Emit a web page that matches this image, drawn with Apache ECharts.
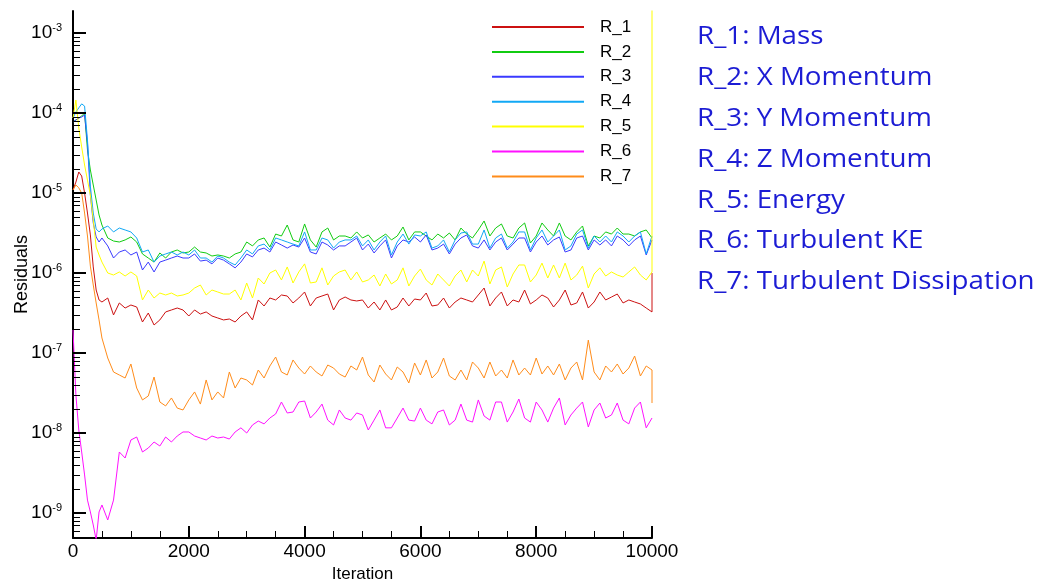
<!DOCTYPE html>
<html>
<head>
<meta charset="utf-8">
<script src="https://cdn.jsdelivr.net/npm/echarts@6/dist/echarts.min.js"></script>
<style>
html,body{margin:0;padding:0;background:#fff;}
#chart{width:1041px;height:581px;}
</style>
</head>
<body>
<div id="chart"></div>
<script>
// Iteration numbers (x). Last entry repeats 10000 for the final-step jump.
const iterations = [0,50,100,150,200,250,300,350,400,450,500,
  600,700,800,900,1000,1100,1200,1300,1400,1500,
  1600,1700,1800,1900,2000,2100,2200,2300,2400,2500,
  2600,2700,2800,2900,3000,3100,3200,3300,3400,3500,
  3600,3700,3800,3900,4000,4100,4200,4300,4400,4500,
  4600,4700,4800,4900,5000,5100,5200,5300,5400,5500,
  5600,5700,5800,5900,6000,6100,6200,6300,6400,6500,
  6600,6700,6800,6900,7000,7100,7200,7300,7400,7500,
  7600,7700,7800,7900,8000,8100,8200,8300,8400,8500,
  8600,8700,8800,8900,9000,9100,9200,9300,9400,9500,
  9600,9700,9800,9900,10000,
  10000];

const R_1 = [1.09e-5,1.37e-5,1.83e-5,1.63e-5,1.0e-5,5.62e-6,2.99e-6,1.19e-6,6.13e-7,4.6e-7,4.34e-7,
  4.87e-7,2.99e-7,4.22e-7,3.65e-7,3.98e-7,3.76e-7,2.44e-7,3.16e-7,2.24e-7,2.59e-7,
  3.26e-7,3.45e-7,3.65e-7,3.45e-7,2.9e-7,3.45e-7,3.07e-7,3.26e-7,2.9e-7,2.74e-7,
  2.59e-7,2.66e-7,2.44e-7,2.9e-7,3.26e-7,2.59e-7,4.6e-7,3.87e-7,4.87e-7,4.6e-7,
  5.31e-7,5.16e-7,4.22e-7,4.87e-7,5.79e-7,3.87e-7,4.87e-7,5.16e-7,5.46e-7,3.45e-7,
  4.6e-7,5.01e-7,4.6e-7,4.47e-7,4.6e-7,3.65e-7,4.34e-7,3.45e-7,4.6e-7,3.45e-7,
  3.76e-7,4.87e-7,3.87e-7,4.73e-7,4.6e-7,5.62e-7,3.87e-7,3.98e-7,4.87e-7,3.65e-7,
  4.34e-7,4.87e-7,4.6e-7,4.34e-7,5.31e-7,6.49e-7,3.87e-7,4.87e-7,5.79e-7,3.87e-7,
  4.6e-7,4.34e-7,6.13e-7,4.1e-7,4.6e-7,5.31e-7,4.87e-7,3.76e-7,4.6e-7,6.13e-7,
  3.98e-7,4.22e-7,5.79e-7,3.65e-7,4.34e-7,5.79e-7,4.6e-7,5.01e-7,5.46e-7,4.22e-7,
  4.6e-7,4.34e-7,4.1e-7,3.65e-7,3.26e-7,
  1.0e-6];

const R_2 = [7.72e-5,8.18e-5,8.66e-5,9.17e-5,1.0e-4,3.45e-5,1.94e-5,1.26e-5,8.18e-6,5.31e-6,3.98e-6,
  2.74e-6,2.51e-6,2.44e-6,2.59e-6,2.82e-6,2.44e-6,1.73e-6,1.54e-6,1.37e-6,1.78e-6,
  1.54e-6,1.83e-6,1.94e-6,1.78e-6,1.83e-6,2.11e-6,1.83e-6,1.78e-6,1.63e-6,1.68e-6,
  1.63e-6,1.54e-6,1.73e-6,1.83e-6,2.44e-6,2.18e-6,2.59e-6,2.74e-6,2.11e-6,3.07e-6,
  2.9e-6,3.98e-6,2.59e-6,2.44e-6,4.1e-6,2.59e-6,2.11e-6,3.26e-6,3.65e-6,2.59e-6,
  2.9e-6,2.9e-6,2.74e-6,3.26e-6,2.74e-6,2.99e-6,2.44e-6,2.74e-6,3.07e-6,2.59e-6,
  2.9e-6,3.76e-6,2.59e-6,3.26e-6,3.26e-6,2.9e-6,2.59e-6,3.07e-6,2.74e-6,3.16e-6,
  2.59e-6,3.65e-6,3.07e-6,2.74e-6,3.45e-6,4.47e-6,2.9e-6,3.65e-6,4.1e-6,2.9e-6,
  2.74e-6,3.65e-6,4.22e-6,2.37e-6,2.9e-6,4.22e-6,3.45e-6,2.9e-6,4.22e-6,2.9e-6,
  2.59e-6,3.26e-6,3.87e-6,2.18e-6,2.9e-6,2.74e-6,3.26e-6,3.07e-6,3.65e-6,3.07e-6,
  3.07e-6,2.9e-6,3.26e-6,3.45e-6,2.74e-6,
  2.74e-6];

const R_3 = [7.72e-5,8.18e-5,8.66e-5,8.91e-5,9.44e-5,4.22e-5,9.44e-6,4.22e-6,2.82e-6,2.44e-6,2.74e-6,
  2.18e-6,1.54e-6,1.83e-6,1.94e-6,1.68e-6,1.83e-6,1.09e-6,1.37e-6,1.03e-6,1.37e-6,
  1.45e-6,1.54e-6,1.63e-6,1.54e-6,1.54e-6,1.73e-6,1.41e-6,1.45e-6,1.3e-6,1.54e-6,
  1.45e-6,1.3e-6,1.16e-6,1.37e-6,1.73e-6,1.59e-6,1.94e-6,2.05e-6,1.83e-6,2.44e-6,
  2.24e-6,2.05e-6,2.24e-6,2.11e-6,2.74e-6,1.83e-6,1.73e-6,2.44e-6,2.24e-6,1.94e-6,
  2.18e-6,2.18e-6,2.44e-6,2.74e-6,1.94e-6,2.3e-6,1.78e-6,2.18e-6,2.59e-6,1.54e-6,
  2.18e-6,2.59e-6,2.44e-6,2.82e-6,2.44e-6,2.99e-6,1.94e-6,2.05e-6,2.3e-6,1.73e-6,
  2.3e-6,2.74e-6,2.99e-6,2.18e-6,2.05e-6,2.59e-6,1.94e-6,2.44e-6,2.74e-6,1.94e-6,
  2.3e-6,2.74e-6,2.74e-6,1.83e-6,2.44e-6,2.9e-6,2.24e-6,2.59e-6,2.82e-6,1.83e-6,
  1.94e-6,2.74e-6,2.9e-6,1.94e-6,2.59e-6,2.24e-6,2.59e-6,2.18e-6,2.9e-6,2.59e-6,
  2.18e-6,2.59e-6,2.9e-6,1.68e-6,2.59e-6,
  2.59e-6];

const R_4 = [8.66e-5,1.03e-4,1.16e-4,1.3e-4,1.22e-4,4.6e-5,1.22e-5,5.62e-6,3.55e-6,3.26e-6,3.55e-6,
  3.87e-6,3.26e-6,3.65e-6,3.45e-6,3.26e-6,2.74e-6,1.83e-6,1.94e-6,1.37e-6,1.63e-6,
  1.73e-6,1.83e-6,1.68e-6,1.83e-6,1.68e-6,1.94e-6,1.54e-6,1.54e-6,1.37e-6,1.63e-6,
  1.54e-6,1.37e-6,1.26e-6,1.54e-6,1.94e-6,1.73e-6,2.18e-6,2.3e-6,1.94e-6,2.74e-6,
  2.59e-6,2.44e-6,2.3e-6,2.18e-6,3.26e-6,1.94e-6,1.94e-6,2.74e-6,2.59e-6,2.05e-6,
  2.44e-6,2.59e-6,2.59e-6,2.9e-6,2.18e-6,2.59e-6,1.94e-6,2.44e-6,2.9e-6,1.68e-6,
  2.44e-6,3.07e-6,2.3e-6,2.99e-6,2.9e-6,3.26e-6,2.05e-6,2.18e-6,2.59e-6,1.83e-6,
  2.59e-6,3.16e-6,3.26e-6,2.3e-6,2.3e-6,3.45e-6,2.05e-6,2.74e-6,3.07e-6,2.05e-6,
  2.44e-6,3.26e-6,3.26e-6,1.94e-6,2.74e-6,3.45e-6,2.44e-6,2.9e-6,3.45e-6,1.94e-6,
  2.18e-6,3.07e-6,3.45e-6,2.05e-6,2.9e-6,2.44e-6,2.9e-6,2.44e-6,3.26e-6,2.9e-6,
  2.44e-6,2.9e-6,3.26e-6,1.73e-6,2.9e-6,
  2.9e-6];

const R_5 = [8.66e-5,1.45e-4,6.49e-5,3.76e-5,2.24e-5,1.45e-5,9.44e-6,4.6e-6,2.11e-6,1.68e-6,1.37e-6,
  1.0e-6,9.44e-7,1.03e-6,9.17e-7,1.03e-6,9.17e-7,4.6e-7,6.13e-7,4.87e-7,5.62e-7,
  5.31e-7,5.62e-7,5.16e-7,5.31e-7,5.62e-7,6.49e-7,7.08e-7,5.31e-7,6.13e-7,5.79e-7,
  5.46e-7,5.46e-7,6.13e-7,4.6e-7,7.5e-7,4.87e-7,8.66e-7,7.29e-7,1.0e-6,1.09e-6,
  8.18e-7,1.19e-6,7.5e-7,1.03e-6,1.3e-6,7.5e-7,7.72e-7,1.16e-6,7.08e-7,9.17e-7,
  1.03e-6,1.09e-6,8.18e-7,1.03e-6,7.72e-7,8.18e-7,9.44e-7,6.88e-7,9.72e-7,7.29e-7,
  8.18e-7,1.16e-6,6.88e-7,9.17e-7,1.12e-6,8.18e-7,7.08e-7,9.72e-7,8.18e-7,6.88e-7,
  9.17e-7,1.09e-6,7.72e-7,1.09e-6,9.17e-7,1.41e-6,7.29e-7,1.09e-6,1.19e-6,6.68e-7,
  9.72e-7,1.26e-6,1.26e-6,7.72e-7,9.44e-7,1.33e-6,8.66e-7,1.26e-6,8.66e-7,1.33e-6,
  8.18e-7,9.44e-7,1.22e-6,6.49e-7,9.72e-7,1.16e-6,9.17e-7,1.03e-6,9.44e-7,8.91e-7,
  1.03e-6,1.19e-6,9.44e-7,8.18e-7,1.03e-6,
  1.0e-2];

const R_6 = [1.94e-7,2.99e-8,1.09e-8,5.79e-9,2.99e-9,1.45e-9,1.03e-9,7.08e-10,4.6e-10,1.03e-9,1.26e-9,
  8.18e-10,1.45e-9,5.79e-9,4.87e-9,8.18e-9,8.91e-9,5.79e-9,6.49e-9,7.72e-9,6.88e-9,
  8.91e-9,7.72e-9,9.17e-9,1.03e-8,1.03e-8,9.17e-9,8.66e-9,8.18e-9,9.17e-9,8.66e-9,
  8.91e-9,8.41e-9,1.03e-8,1.16e-8,1.0e-8,1.26e-8,1.41e-8,1.3e-8,1.54e-8,1.73e-8,
  2.44e-8,1.78e-8,1.83e-8,2.44e-8,2.51e-8,1.54e-8,1.83e-8,2.3e-8,1.45e-8,1.26e-8,
  1.94e-8,1.54e-8,1.45e-8,1.78e-8,1.68e-8,1.09e-8,1.45e-8,1.94e-8,1.16e-8,1.16e-8,
  1.54e-8,2.05e-8,1.45e-8,1.41e-8,2.05e-8,1.45e-8,1.3e-8,1.83e-8,1.94e-8,1.26e-8,
  1.45e-8,2.3e-8,1.45e-8,1.37e-8,2.59e-8,1.63e-8,1.45e-8,2.44e-8,2.44e-8,1.37e-8,
  1.83e-8,2.66e-8,1.54e-8,1.37e-8,2.44e-8,1.94e-8,1.37e-8,2.05e-8,2.74e-8,1.26e-8,
  1.68e-8,2.05e-8,2.44e-8,1.19e-8,1.94e-8,2.37e-8,1.54e-8,1.68e-8,2.37e-8,1.45e-8,
  1.3e-8,2.05e-8,2.44e-8,1.16e-8,1.54e-8,
  1.54e-8];

const R_7 = [1.09e-5,1.26e-5,1.16e-5,1.0e-5,5.62e-6,2.9e-6,1.22e-6,7.08e-7,4.22e-7,2.59e-7,1.54e-7,
  8.66e-8,5.79e-8,5.31e-8,4.87e-8,7.29e-8,3.65e-8,2.59e-8,2.9e-8,5.01e-8,2.44e-8,
  2.18e-8,2.74e-8,2.05e-8,1.94e-8,2.59e-8,3.26e-8,2.3e-8,4.6e-8,2.59e-8,3.26e-8,
  2.74e-8,5.79e-8,3.65e-8,4.87e-8,4.6e-8,3.98e-8,6.13e-8,4.87e-8,6.88e-8,8.91e-8,
  5.79e-8,5.31e-8,8.18e-8,6.49e-8,5.46e-8,6.88e-8,5.79e-8,5.16e-8,7.08e-8,6.49e-8,
  5.46e-8,5.01e-8,6.88e-8,6.13e-8,8.91e-8,5.31e-8,4.34e-8,7.08e-8,5.46e-8,4.6e-8,
  6.68e-8,5.79e-8,4.22e-8,7.5e-8,5.31e-8,8.18e-8,4.87e-8,5.79e-8,8.66e-8,5.16e-8,
  4.6e-8,6.13e-8,4.6e-8,7.72e-8,6.49e-8,4.87e-8,7.72e-8,5.16e-8,6.13e-8,4.87e-8,
  8.18e-8,5.31e-8,6.49e-8,5.31e-8,8.66e-8,5.46e-8,6.88e-8,5.31e-8,7.29e-8,4.6e-8,
  6.49e-8,7.72e-8,4.6e-8,1.45e-7,5.79e-8,4.6e-8,6.88e-8,5.79e-8,7.29e-8,5.46e-8,
  6.49e-8,9.17e-8,5.16e-8,6.88e-8,6.13e-8,
  2.37e-8];

const seriesNames = ['R_1','R_2','R_3','R_4','R_5','R_6','R_7'];
const seriesValues = [R_1, R_2, R_3, R_4, R_5, R_6, R_7];
const seriesColors = ['#cc1111','#11cc11','#3a3aff','#11a8f5','#ffff00','#ff11ff','#ff8c1a'];
const descriptions = ['R_1: Mass','R_2: X Momentum','R_3: Y Momentum','R_4: Z Momentum',
  'R_5: Energy','R_6: Turbulent KE','R_7: Turbulent Dissipation'];
const xTicks = {min: 0, max: 10000, interval: 2000};
const yRange = {min: 4.87e-10, max: 1.884e-3};
const yMajorExponents = [-9, -8, -7, -6, -5, -4, -3];
const yMinorMantissas = [2, 3, 4, 5, 6, 7, 8, 9];
const yMinorExponents = [-10, -9, -8, -7, -6, -5, -4, -3];
const xName = 'Iteration';
const yName = 'Residuals';

const FONT = 'Liberation Sans, Arial, sans-serif';
const chart = echarts.init(document.getElementById('chart'), null, {renderer: 'canvas'});

// tick values on the log axis (placed through the axis scale by a custom series)
const yTickData = [];
yMajorExponents.forEach(e => yTickData.push([0, Math.pow(10, e), 1]));
yMinorExponents.forEach(e => yMinorMantissas.forEach(m => {
  const v = m * Math.pow(10, e);
  if (v > yRange.min && v < yRange.max) yTickData.push([0, v, 0]);
}));

const series = seriesNames.map((name, k) => ({
  name: name,
  type: 'line',
  data: iterations.map((x, i) => [x, seriesValues[k][i]]),
  showSymbol: false,
  symbol: 'none',
  clip: true,
  lineStyle: {width: 1, color: seriesColors[k]},
  itemStyle: {color: seriesColors[k]},
  animation: false,
  z: 2 + k
}));

series.push({
  name: 'yTicks',
  type: 'custom',
  silent: true,
  animation: false,
  clip: false,
  z: 20,
  data: yTickData,
  renderItem: function (params, api) {
    const p = api.coord([0, api.value(1)]);
    const major = api.value(2) === 1;
    const len = major ? 13 : 7;
    const y = Math.round(p[1]) + (major ? 0 : 0.5);
    return {
      type: 'line',
      shape: {x1: p[0], y1: y, x2: p[0] + len, y2: y},
      style: {stroke: '#000', lineWidth: major ? 2 : 1}
    };
  }
});

chart.setOption({
  animation: false,
  backgroundColor: '#fff',
  grid: {left: 73, top: 11, width: 579, height: 527, containLabel: false, outerBoundsMode: 'none'},
  xAxis: {
    type: 'value', min: xTicks.min, max: xTicks.max, interval: xTicks.interval,
    name: xName, nameLocation: 'middle', nameGap: 27,
    nameTextStyle: {fontFamily: FONT, fontSize: 17, color: '#000'},
    axisLine: {show: true, onZero: false, lineStyle: {color: '#000', width: 2}},
    axisTick: {show: true, inside: true, length: 12, lineStyle: {color: '#000', width: 2}},
    minorTick: {show: true, splitNumber: 4, length: 7, lineStyle: {color: '#000', width: 1}},
    axisLabel: {margin: 4, fontFamily: FONT, fontSize: 19, color: '#000',
      formatter: function (v) { return String(v); }},
    splitLine: {show: false}, minorSplitLine: {show: false}
  },
  yAxis: {
    type: 'log', logBase: 10, min: yRange.min, max: yRange.max,
    name: yName, nameLocation: 'middle', nameGap: 42, nameRotate: 90, nameMoveOverlap: false,
    nameTextStyle: {fontFamily: FONT, fontSize: 18, color: '#000'},
    axisLine: {show: true, onZero: false, lineStyle: {color: '#000', width: 2}},
    axisTick: {show: false},
    minorTick: {show: false},
    axisLabel: {
      margin: 11,
      formatter: function (v) {
        const e = Math.log10(v);
        const r = Math.round(e);
        if (Math.abs(e - r) > 1e-6) return '';
        return '{b|10}{s|' + r + '}';
      },
      rich: {
        b: {fontFamily: FONT, fontSize: 19, color: '#000', lineHeight: 22},
        s: {fontFamily: FONT, fontSize: 11, color: '#000', lineHeight: 11, verticalAlign: 'top'}
      }
    },
    splitLine: {show: false}, minorSplitLine: {show: false}
  },
  legend: {
    orient: 'vertical', left: 487, top: 13.5,
    itemWidth: 92, itemHeight: 2, itemGap: 7.9, icon: 'rect',
    selectedMode: false,
    textStyle: {fontFamily: FONT, fontSize: 17, color: '#000', lineHeight: 17, padding: [0, 0, 0, 11]},
    data: seriesNames
  },
  graphic: descriptions.map((t, i) => ({
    type: 'text', x: 697, y: 37.2 + i * 40.8, scaleX: 1.11,
    style: {text: t, fontFamily: 'Open Sans, sans-serif', fontSize: 25, fill: '#1c1cd4',
      verticalAlign: 'middle', align: 'left'}
  })),
  series: series
});
</script>
</body>
</html>
